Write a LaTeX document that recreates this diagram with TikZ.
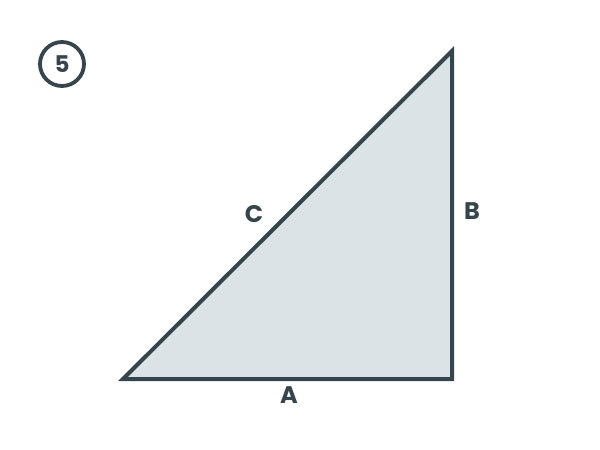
\documentclass[tikz,border=0pt]{standalone}
\usepackage{fontspec}
\setmainfont{Poppins}[BoldFont={* Bold}]
\definecolor{ink}{HTML}{36454D}
\definecolor{pale}{HTML}{DCE3E7}
\begin{document}
\begin{tikzpicture}[x=1pt,y=-1pt,
  lbl/.style={text=ink,font=\fontsize{24}{24}\selectfont\bfseries,inner sep=0pt}]
\useasboundingbox[fill=white] (0,0) rectangle (600,450);
\coordinate (P) at (123,379);
\coordinate (Q) at (452,379);
\coordinate (R) at (452,51);
\draw[ink,fill=pale,line width=4pt,line join=miter] (P) -- (Q) -- (R) -- cycle;
\node[circle,draw=ink,line width=3.8pt,minimum size=44pt,inner sep=0pt,text=ink,font=\fontsize{23}{23}\selectfont\bfseries] (n5) at (62,64) {5};
\node[lbl] (C) at (254,214) {C};
\node[lbl] (B) at (472,211) {B};
\node[lbl] (A) at (289,395) {A};
\end{tikzpicture}
\end{document}
